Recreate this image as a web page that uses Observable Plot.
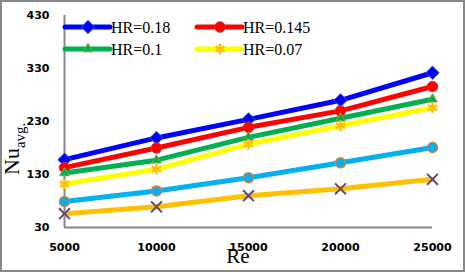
<!DOCTYPE html>
<html>
<head>
<meta charset="utf-8">
<script src="https://cdn.jsdelivr.net/npm/d3@7"></script>
<script src="https://cdn.jsdelivr.net/npm/@observablehq/plot@0.6"></script>
<style>
  html, body { margin: 0; padding: 0; background: #fff; }
  #wrap { position: relative; width: 465px; height: 272px; overflow: hidden; background: #fff; }
  #wrap > svg { position: absolute; left: 0; top: 0; }
</style>
</head>
<body>
<div id="wrap"></div>
<script>
// ---- data ----
const re = [5000, 10000, 15000, 20000, 25000];
const hr018 = [158, 199, 234, 270, 322];
const hr0145 = [143, 180, 219, 250, 296];
const hr010 = [133, 157, 200, 236, 272];
const hr007 = [112, 140, 187, 222, 256];
const seriesE = [79, 99, 124, 152, 181];
const seriesF = [56, 69, 90, 103, 121];
const legendLabels = ["HR=0.18", "HR=0.145", "HR=0.1", "HR=0.07"];
const yTicks = [30, 130, 230, 330, 430];
const xLabel = "Re";
const yLabelMain = "Nu";
const yLabelSub = "avg.";

// ---- styles ----
const series = [
  {label: legendLabels[0], values: hr018, line: "#0000ff", symbol: "diamond2", fill: "#0000ff", stroke: "#3a5fb0", r: 6, sw: 1},
  {label: legendLabels[1], values: hr0145, line: "#ff0000", symbol: "circle", fill: "#ff0000", stroke: "#b9413d", r: 5.3, sw: 1},
  {label: legendLabels[2], values: hr010, line: "#00b050", symbol: "triangle2", fill: "#00b050", stroke: "#8f9a40", r: 4.6, sw: 1},
  {label: legendLabels[3], values: hr007, line: "#ffff00", symbol: "asterisk", fill: "none", stroke: "#ffc000", r: 5, sw: 2.5},
  {label: null, values: seriesE, line: "#00b0f0", symbol: "circle", fill: "#00b0f0", stroke: "#e07b39", r: 5, sw: 1.5},
  {label: null, values: seriesF, line: "#ffc000", symbol: "times", fill: "none", stroke: "#5f497a", r: 5, sw: 2}
];

const marks = [
  Plot.ruleX([re[0]], {stroke: "#868686", strokeWidth: 2}),
  Plot.ruleY([yTicks[0]], {stroke: "#868686", strokeWidth: 2}),
  Plot.axisY({ticks: yTicks, tickSize: 0, tickPadding: 15, label: null}),
  Plot.axisX({ticks: re, tickSize: 0, tickPadding: 16, tickFormat: d => String(d), label: null})
];
series.forEach((s) => {
  const rows = re.map((x, j) => ({x, y: s.values[j]}));
  marks.push(Plot.line(rows, {x: "x", y: "y", stroke: s.line, strokeWidth: 5}));
  marks.push(Plot.dot(rows, {x: "x", y: "y", symbol: () => s.symbol, r: s.r, fill: s.fill, stroke: s.stroke, strokeWidth: s.sw}));
});

const chart = Plot.plot({
  width: 465,
  height: 272,
  marginLeft: 64,
  marginRight: 33,
  marginTop: 15,
  marginBottom: 45,
  x: {domain: [re[0], re[re.length - 1]]},
  y: {domain: [yTicks[0], yTicks[yTicks.length - 1]]},
  style: {fontFamily: "DejaVu Sans", fontSize: "11px", fontWeight: "bold", color: "#000", background: "transparent", overflow: "visible"},
  marks
});
document.getElementById("wrap").appendChild(chart);

// ---- overlay: legend, axis titles, border ----
const ov = d3.select("#wrap").append("svg")
  .attr("width", 465).attr("height", 272)
  .style("position", "absolute").style("left", "0px").style("top", "0px");

const symMap = {diamond2: d3.symbolDiamond2, circle: d3.symbolCircle, triangle2: d3.symbolTriangle2, asterisk: d3.symbolAsterisk, times: d3.symbolTimes};
const legendPos = [[65, 27], [197, 27], [65, 49], [197, 49]];
series.filter(s => s.label).forEach((s, i) => {
  const [lx, ly] = legendPos[i];
  const g = ov.append("g").attr("transform", `translate(${lx},${ly})`);
  g.append("line").attr("x1", 0).attr("x2", 45).attr("y1", 0).attr("y2", 0)
    .attr("stroke", s.line).attr("stroke-width", 5).attr("stroke-linecap", "round");
  g.append("path").attr("transform", "translate(23,0)")
    .attr("d", d3.symbol().type(symMap[s.symbol]).size(Math.PI * s.r * s.r)())
    .attr("fill", s.fill).attr("stroke", s.stroke).attr("stroke-width", s.sw);
  g.append("text").attr("x", 46).attr("y", 6)
    .attr("font-family", "Liberation Serif, Times New Roman, serif").attr("font-size", 16)
    .attr("fill", "#000").text(s.label);
});

const yl = ov.append("text")
  .attr("transform", "translate(19,175) rotate(-90)")
  .attr("font-family", "Liberation Serif, Times New Roman, serif")
  .attr("fill", "#000");
yl.append("tspan").attr("font-size", 22).text(yLabelMain);
yl.append("tspan").attr("font-size", 15).attr("dy", 6).text(yLabelSub);

ov.append("text").attr("x", 238).attr("y", 263).attr("text-anchor", "middle")
  .attr("font-family", "Liberation Serif, Times New Roman, serif").attr("font-size", 21)
  .attr("fill", "#000").text(xLabel);

ov.append("rect").attr("x", 1).attr("y", 1).attr("width", 463).attr("height", 270)
  .attr("fill", "none").attr("stroke", "#878787").attr("stroke-width", 2);
</script>
</body>
</html>
